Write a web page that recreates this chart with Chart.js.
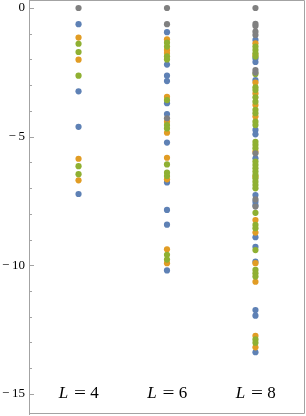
<!DOCTYPE html>
<html><head><meta charset="utf-8">
<script src="https://cdn.jsdelivr.net/npm/chart.js@4/dist/chart.umd.min.js"></script>
<style>html,body{margin:0;padding:0;background:#fff;overflow:hidden}canvas{display:block}</style>
</head><body>
<canvas id="c" width="306" height="416"></canvas>
<script>
// Categories (system sizes L) and y tick labels
const categories = [4, 6, 8];
const yTicks = [0, -5, -10, -15];

// Values per colour series, one inner list per category (L = 4, 6, 8)
const grayVals = [
  [0],
  [0, -0.63, -4.29],
  [0, -0.62, -0.70, -0.92, -1.05, -2.41, -2.51, -5.65, -7.44, -7.72]
];
const blueVals = [
  [-0.63, -3.24, -4.62, -7.23],
  [-0.94, -2.20, -2.63, -2.84, -3.70, -4.12, -5.23, -6.78, -7.85, -8.42, -10.2],
  [-1.24, -1.96, -2.10, -2.80, -4.74, -4.91, -5.84, -7.27, -7.53, -7.66, -8.91, -9.28, -9.86, -11.74, -11.96, -13.38]
];
const orangeVals = [
  [-1.15, -2.01, -5.86, -6.70],
  [-1.22, -1.63, -1.75, -3.45, -4.42, -4.85, -5.82, -6.66, -9.38, -9.92],
  [-1.37, -1.83, -2.90, -3.32, -3.77, -4.22, -5.58, -6.55, -8.24, -8.73, -9.92, -10.64, -12.74, -13.19]
];
const greenVals = [
  [-1.39, -1.71, -2.63, -6.15, -6.46],
  [-1.35, -1.50, -1.88, -2.00, -3.58, -4.55, -4.68, -6.08, -6.40, -6.53, -9.59, -9.78],
  [-1.50, -1.63, -1.76, -1.89, -2.57, -3.08, -3.19, -3.47, -3.64, -3.96, -4.09, -4.42, -4.55, -5.20, -5.32, -5.45,
   -5.97, -6.10, -6.23, -6.36, -6.49, -6.62, -6.75, -6.88, -7.01, -7.96, -8.43, -8.56, -9.41, -10.18, -10.31, -10.44, -12.88, -13.01]
];

function pts(series) {
  const out = [];
  series.forEach((vals, i) => vals.forEach(v => out.push({x: i + 1, y: v})));
  return out;
}

const frameColor = '#a3a3a3';

const framePlugin = {
  id: 'frame',
  beforeDatasetsDraw(chart) {
    const {ctx, chartArea: a, scales: {y}} = chart;
    ctx.save();
    ctx.strokeStyle = frameColor;
    ctx.lineWidth = 1;
    ctx.beginPath();
    ctx.moveTo(a.left + 0.5, a.top + 0.5);
    ctx.lineTo(a.right - 0.5, a.top + 0.5);
    ctx.lineTo(a.right - 0.5, a.bottom - 0.5);
    ctx.lineTo(a.left + 0.5, a.bottom - 0.5);
    ctx.closePath();
    ctx.stroke();
    // inward ticks: major every 5, minor every 1
    for (let v = Math.ceil(y.min); v <= Math.floor(y.max); v++) {
      const py = Math.round(y.getPixelForValue(v)) + 0.5;
      const len = (v % 5 === 0) ? 5 : 3;
      ctx.beginPath();
      ctx.moveTo(a.left, py);
      ctx.lineTo(a.left + len, py);
      ctx.stroke();
    }
    ctx.restore();
  },
  afterDatasetsDraw(chart) {
    const {ctx, scales: {x, y}} = chart;
    ctx.save();
    ctx.fillStyle = '#000';
    ctx.textBaseline = 'alphabetic';
    ctx.textAlign = 'center';
    const base = y.getPixelForValue(-15) + 4.5;
    categories.forEach((L, i) => {
      const cx = x.getPixelForValue(i + 1);
      ctx.font = 'italic 17px "Liberation Serif"';
      ctx.fillText('L', cx - 15, base);
      ctx.font = '17px "Liberation Serif"';
      ctx.save();
      ctx.translate(cx + 1.5, base);
      ctx.scale(1.25, 1);
      ctx.fillText('=', 0, 0);
      ctx.restore();
      ctx.fillText(String(L), cx + 16, base);
    });
    ctx.restore();
  }
};

const mk = (label, data, color, order) => ({
  label, data: pts(data), backgroundColor: color, borderWidth: 0,
  pointRadius: 3.1, pointHoverRadius: 3.1, order
});

new Chart(document.getElementById('c'), {
  type: 'scatter',
  data: {
    datasets: [
      mk('gray', grayVals, '#808080', 0),
      mk('green', greenVals, '#8fb032', 1),
      mk('orange', orangeVals, '#e19c24', 2),
      mk('blue', blueVals, '#5e81b5', 3)
    ]
  },
  options: {
    responsive: false,
    devicePixelRatio: 1,
    animation: false,
    events: [],
    layout: {autoPadding: false, padding: {top: 0, right: 1, bottom: 2, left: 0}},
    plugins: {legend: {display: false}, tooltip: {enabled: false}},
    scales: {
      x: {type: 'linear', min: 0.44, max: 3.56, display: false},
      y: {
        type: 'linear', min: -15.78, max: 0.31,
        afterFit(s) { s.width = 29; s.paddingTop = 0; s.paddingBottom = 0; },
        afterBuildTicks(s) { s.ticks = yTicks.map(v => ({value: v})); },
        border: {display: true, color: frameColor, width: 1},
        grid: {display: false, drawTicks: false},
        ticks: {
          padding: 4,
          color: '#000',
          font: {family: '"Liberation Serif"', size: 13},
          callback: v => v < 0 ? '\u2212\u2009' + Math.abs(v) : String(v)
        }
      }
    }
  },
  plugins: [framePlugin]
});
</script>
</body></html>
